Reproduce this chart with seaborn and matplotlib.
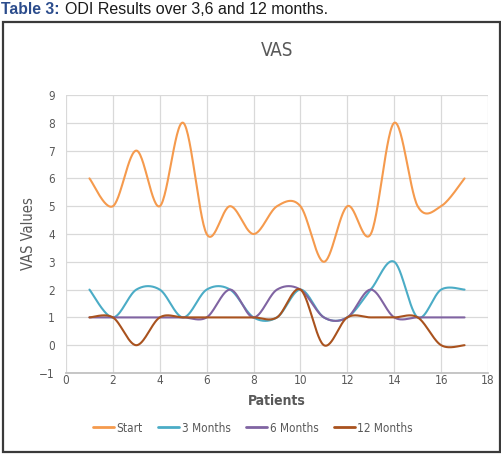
import numpy as np
import pandas as pd
import matplotlib
matplotlib.use("Agg")
import matplotlib.pyplot as plt
from matplotlib.patches import Rectangle
from matplotlib.lines import Line2D
import seaborn as sns

patients = list(range(1, 18))
start = [6, 5, 7, 5, 8, 4, 5, 4, 5, 5, 3, 5, 4, 8, 5, 5, 6]
months3 = [2, 1, 2, 2, 1, 2, 2, 1, 1, 2, 1, 1, 2, 3, 1, 2, 2]
months6 = [1, 1, 1, 1, 1, 1, 2, 1, 2, 2, 1, 1, 2, 1, 1, 1, 1]
months12 = [1, 1, 0, 1, 1, 1, 1, 1, 1, 2, 0, 1, 1, 1, 1, 0, 0]
series_names = ["Start", "3 Months", "6 Months", "12 Months"]
colors = ["#F59A4D", "#4BACC6", "#8064A2", "#A9521E"]

sns.set_theme(style="whitegrid")
plt.rcParams['font.family'] = ['DejaVu Sans']
plt.rcParams['font.stretch'] = 'condensed'


def smooth(xs, ys, n=30):
    # Catmull-Rom (Excel-like "smoothed line") drawn through the data points
    P = np.column_stack([xs, ys]).astype(float)
    P = np.vstack([P[0] * 2 - P[1], P, P[-1] * 2 - P[-2]])
    out = []
    for i in range(1, len(P) - 2):
        p0, p1, p2, p3 = P[i - 1], P[i], P[i + 1], P[i + 2]
        m1 = (p2 - p0) / 2
        m2 = (p3 - p1) / 2
        if i == 1:
            m1 = (p2 - p1) / 2
        if i == len(P) - 3:
            m2 = (p2 - p1) / 2
        t = np.linspace(0, 1, n, endpoint=(i == len(P) - 3))[:, None]
        h00 = 2 * t**3 - 3 * t**2 + 1
        h10 = t**3 - 2 * t**2 + t
        h01 = -2 * t**3 + 3 * t**2
        h11 = t**3 - t**2
        out.append(h00 * p1 + h10 * m1 + h01 * p2 + h11 * m2)
    return np.vstack(out)


fig = plt.figure(figsize=(5.02, 4.54), dpi=100)
fig.patch.set_facecolor("white")

# outer chart frame
fig.patches.append(Rectangle((3 / 502, 2 / 454), 497 / 502, 430 / 454,
                             transform=fig.transFigure, fill=False,
                             edgecolor="#3a3a3a", linewidth=1.6))

fig.text(1 / 502, 1 - 9 / 454, "Table 3:", color="#2B4C8C", fontweight="bold",
         fontsize=11.3, family=["Liberation Sans", "DejaVu Sans"], stretch="normal",
         va="center", ha="left")
fig.text(65 / 502, 1 - 9 / 454, "ODI Results over 3,6 and 12 months.", color="#1a1a1a",
         fontsize=11.5, family=["Liberation Sans", "DejaVu Sans"], stretch="normal",
         va="center", ha="left")

ax = fig.add_axes([66 / 502, 1 - 373 / 454, 422 / 502, 278 / 454])
ax.set_facecolor("white")

frames = []
for name, vals in zip(series_names, [start, months3, months6, months12]):
    c = smooth(patients, vals)
    frames.append(pd.DataFrame({"x": c[:, 0], "y": c[:, 1], "series": name,
                                "order": np.arange(len(c))}))
df = pd.concat(frames, ignore_index=True)

for name, col in zip(series_names, colors):
    sub = df[df["series"] == name]
    sns.lineplot(data=sub, x="x", y="y", sort=False, estimator=None, ax=ax,
                 color=col, linewidth=1.5, legend=False)

ax.set_xlim(0, 18)
ax.set_ylim(-1, 9)
ax.set_xticks(range(0, 19, 2))
ax.set_yticks(range(-1, 10))
ax.grid(True, color="#D9D9D9", linewidth=0.9)
for s in ["top", "right", "left"]:
    ax.spines[s].set_visible(False)
ax.spines["bottom"].set_color("#BFBFBF")
ax.tick_params(axis="x", colors="#595959", labelsize=8.5, length=0, pad=1)
ax.tick_params(axis="y", colors="#595959", labelsize=8.5, length=0, pad=8)
ax.set_xlabel("Patients", color="#595959", fontsize=10, fontweight="bold", labelpad=5)
ax.set_ylabel("VAS Values", color="#595959", fontsize=10.5, labelpad=2)
ax.set_title("VAS", color="#595959", fontsize=13.5, pad=28)

handles = [Line2D([0], [0], color=c, linewidth=2) for c in colors]
fig.legend(handles, series_names, loc="center", bbox_to_anchor=(253 / 502, 1 - 428 / 454),
           ncol=4, frameon=False, fontsize=8.5, labelcolor="#595959",
           handlelength=1.8, handletextpad=0.2, columnspacing=1.3)

fig.savefig("out.png", dpi=100, facecolor="white")
